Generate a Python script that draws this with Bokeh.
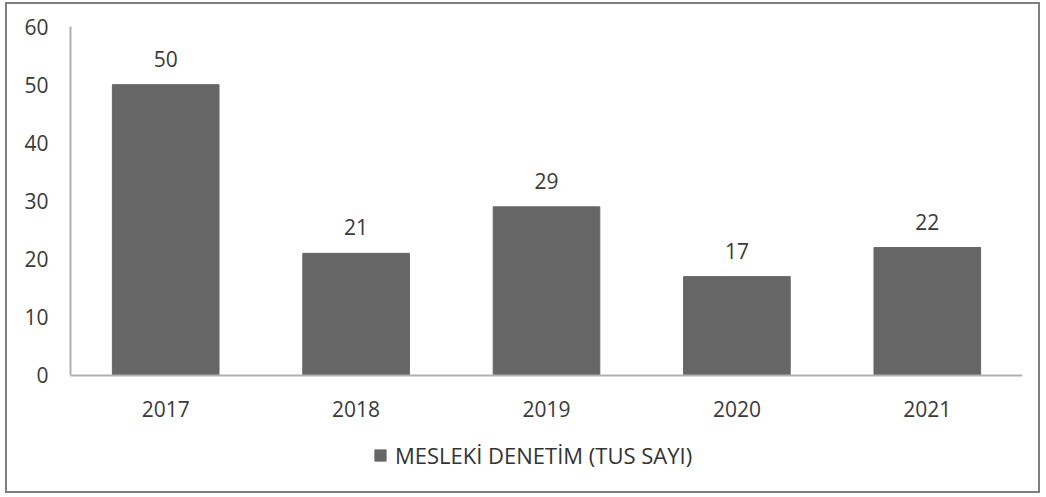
from bokeh.plotting import figure
from bokeh.models import ColumnDataSource, LabelSet, Legend, LegendItem, FixedTicker, Span
from bokeh.core.properties import value
from bokeh.embed import file_html
from bokeh.resources import INLINE

years = ["2017", "2018", "2019", "2020", "2021"]
values = [50, 21, 29, 17, 22]
value_labels = [str(v) for v in values]
series_name = "MESLEKİ DENETİM (TUS SAYI)"
y_ticks = [0, 10, 20, 30, 40, 50, 60]

src = ColumnDataSource(dict(x=years, top=values, lab=value_labels, base=[0] * len(years)))

# frame extends below the zero line to host the legend
p = figure(x_range=years, y_range=(-19.6, 60), width=1035, height=491,
           output_backend="svg", toolbar_location=None, x_axis_location=None,
           min_border_left=63, min_border_right=20, min_border_top=22, min_border_bottom=6)
p.styles = {"border": "2px solid #7f7f7f", "box-sizing": "border-box",
            "margin-left": "5px", "margin-top": "2px"}

r = p.vbar(x="x", top="top", bottom="base", width=0.56, source=src,
           fill_color="#666666", line_color="#666666")

FONT = "Open Sans"
TXT = "#3a3a3a"
p.xgrid.visible = False
p.ygrid.visible = False
p.outline_line_color = None
p.x_range.range_padding = 0

ax = p.yaxis[0]
ax.bounds = (0, 60)
ax.axis_line_color = "#b0b0b0"
ax.axis_line_width = 2
ax.major_tick_line_color = None
ax.minor_tick_line_color = None
ax.major_label_text_font = FONT
ax.major_label_text_font_size = "21px"
ax.major_label_text_color = TXT
ax.ticker = FixedTicker(ticks=y_ticks)
ax.major_label_standoff = 16

# category axis line at zero
p.add_layout(Span(location=0, dimension="width", line_color="#b0b0b0", line_width=2))

year_labels = LabelSet(x="x", y="base", text="x", source=src, y_offset=-42,
                       text_align="center", text_baseline="alphabetic",
                       text_font=value(FONT), text_font_size="21px", text_color=TXT)
p.add_layout(year_labels)

labels = LabelSet(x="x", y="top", text="lab", source=src, y_offset=18,
                  text_align="center", text_baseline="alphabetic",
                  text_font=value(FONT), text_font_size="21px", text_color=TXT)
p.add_layout(labels)

legend = Legend(items=[LegendItem(label=series_name, renderers=[r])],
                location=(303, 19), orientation="horizontal",
                border_line_color=None, background_fill_alpha=0,
                label_text_font=FONT, label_text_font_size="22px", label_text_color="#333333",
                glyph_width=14, glyph_height=14, padding=0, margin=0, label_standoff=8)
p.add_layout(legend, "center")

open("out.html", "w").write(file_html(p, INLINE))
